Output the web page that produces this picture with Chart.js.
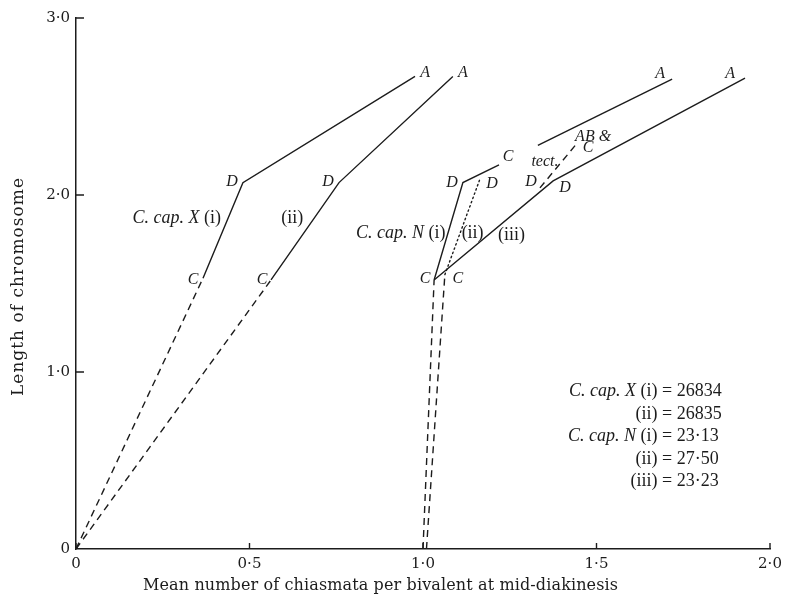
<!DOCTYPE html>
<html>
<head>
<meta charset="utf-8">
<script src="https://cdn.jsdelivr.net/npm/chart.js@4/dist/chart.umd.min.js"></script>
<style>
  html, body { margin: 0; padding: 0; background: #fff; }
  canvas { display: block; }
</style>
</head>
<body>
<canvas id="chart" width="810" height="601"></canvas>
<script>
// Tick labels
const xTickLabels = ['0', '0·5', '1·0', '1·5', '2·0'];
const yTickLabels = ['0', '1·0', '2·0', '3·0'];

// C. cap. X (i): origin, C, D, A  (chiasmata per bivalent, chromosome length)
const capX1Chiasmata = [0, 0.366, 0.481, 0.977];
const capX1Length    = [0, 1.53, 2.07, 2.67];

// C. cap. X (ii): origin, C, D, A
const capX2Chiasmata = [0, 0.562, 0.758, 1.086];
const capX2Length    = [0, 1.52, 2.07, 2.67];

// C. cap. N (i): axis, C, D, C
const capN1Chiasmata = [1.0, 1.032, 1.115, 1.219];
const capN1Length    = [0, 1.52, 2.07, 2.17];

// C. cap. N (ii): axis, C, D (dotted)
const capN2Chiasmata = [1.01, 1.063, 1.164];
const capN2Length    = [0, 1.55, 2.09];

// C. cap. N (ii): D to AB & C (dashed)
const capN2TectChiasmata = [1.337, 1.447];
const capN2TectLength    = [2.04, 2.30];

// C. cap. N (ii): upper branch ending at A
const capN2UpperChiasmata = [1.331, 1.718];
const capN2UpperLength    = [2.28, 2.655];

// C. cap. N (iii): C, D, A
const capN3Chiasmata = [1.032, 1.375, 1.928];
const capN3Length    = [1.52, 2.08, 2.66];

// Regression values listed at lower right
const statNames  = ['C. cap. X (i)', '(ii)', 'C. cap. N (i)', '(ii)', '(iii)'];
const statValues = ['26834', '26835', '23·13', '27·50', '23·23'];

const INK = '#1c1c1c';
const SERIF = '"Liberation Serif", "DejaVu Serif", serif';
const WIDE_SERIF = '"DejaVu Serif", "Liberation Serif", serif';

function pts(xs, ys, from, to) {
  const out = [];
  for (let i = from; i <= to; i++) out.push({ x: xs[i], y: ys[i] });
  return out;
}

function seg(data, dash) {
  return {
    data,
    showLine: true,
    borderColor: INK,
    borderWidth: 1.4,
    borderDash: dash,
    borderCapStyle: dash.length && dash[0] < 3 ? 'round' : 'butt',
    pointRadius: 0,
    pointHoverRadius: 0,
    fill: false,
    tension: 0
  };
}

const DASH = [7, 5];
const DOT = [1.5, 3];

const datasets = [
  seg(pts(capX1Chiasmata, capX1Length, 0, 1), DASH),
  seg(pts(capX1Chiasmata, capX1Length, 1, 3), []),
  seg(pts(capX2Chiasmata, capX2Length, 0, 1), DASH),
  seg(pts(capX2Chiasmata, capX2Length, 1, 3), []),
  seg(pts(capN1Chiasmata, capN1Length, 0, 1), DASH),
  seg(pts(capN1Chiasmata, capN1Length, 1, 3), []),
  seg(pts(capN2Chiasmata, capN2Length, 0, 1), DASH),
  seg(pts(capN2Chiasmata, capN2Length, 1, 2), DOT),
  seg(pts(capN2TectChiasmata, capN2TectLength, 0, 1), DASH),
  seg(pts(capN2UpperChiasmata, capN2UpperLength, 0, 1), []),
  seg(pts(capN3Chiasmata, capN3Length, 0, 2), [])
];

// Letters placed beside curve vertices (pixel offset from the vertex)
const vertexLabels = [
  { t: 'C', x: capX1Chiasmata[1], y: capX1Length[1], dx: -10, dy: 2 },
  { t: 'D', x: capX1Chiasmata[2], y: capX1Length[2], dx: -11, dy: -1 },
  { t: 'A', x: capX1Chiasmata[3], y: capX1Length[3], dx: 10, dy: -4 },
  { t: 'C', x: capX2Chiasmata[1], y: capX2Length[1], dx: -9, dy: 0 },
  { t: 'D', x: capX2Chiasmata[2], y: capX2Length[2], dx: -11, dy: -1 },
  { t: 'A', x: capX2Chiasmata[3], y: capX2Length[3], dx: 10, dy: -4 },
  { t: 'C', x: capN1Chiasmata[1], y: capN1Length[1], dx: -9, dy: -1 },
  { t: 'D', x: capN1Chiasmata[2], y: capN1Length[2], dx: -11, dy: 0 },
  { t: 'C', x: capN1Chiasmata[3], y: capN1Length[3], dx: 9, dy: -8 },
  { t: 'C', x: capN2Chiasmata[1], y: capN2Length[1], dx: 13, dy: 4 },
  { t: 'D', x: capN2Chiasmata[2], y: capN2Length[2], dx: 12, dy: 5 },
  { t: 'D', x: capN2TectChiasmata[0], y: capN2TectLength[0], dx: -9, dy: -6 },
  { t: 'tect.', x: capN2TectChiasmata[0], y: capN2TectLength[0], dx: 5, dy: -26 },
  { t: 'AB &', x: capN2TectChiasmata[1], y: capN2TectLength[1], dx: 15, dy: -5 },
  { t: 'C', x: capN2TectChiasmata[1], y: capN2TectLength[1], dx: 10, dy: 6 },
  { t: 'A', x: capN2UpperChiasmata[1], y: capN2UpperLength[1], dx: -12, dy: -5 },
  { t: 'D', x: capN3Chiasmata[1], y: capN3Length[1], dx: 12, dy: 7 },
  { t: 'A', x: capN3Chiasmata[2], y: capN3Length[2], dx: -15, dy: -4 }
];

// Curve names: runs of italic / roman text, anchored in data space
const curveNames = [
  { runs: [['C. cap. X', true], [' (i)', false]], x: 0.418, y: 1.87, align: 'right' },
  { runs: [['(ii)', false]], x: 0.623, y: 1.87, align: 'center' },
  { runs: [['C. cap. N', true], [' (i)', false]], x: 1.065, y: 1.785, align: 'right' },
  { runs: [['(ii)', false]], x: 1.143, y: 1.785, align: 'center' },
  { runs: [['(iii)', false]], x: 1.255, y: 1.774, align: 'center' }
];

const fontRoman = (s, f) => s + 'px ' + (f || SERIF);
const fontItalic = (s) => 'italic ' + s + 'px ' + SERIF;

function drawRuns(ctx, runs, x, y, align, size) {
  let total = 0;
  const widths = runs.map(([t, it]) => {
    ctx.font = it ? fontItalic(size) : fontRoman(size);
    const w = ctx.measureText(t).width;
    total += w;
    return w;
  });
  let cx = align === 'right' ? x - total : align === 'center' ? x - total / 2 : x;
  ctx.textAlign = 'left';
  ctx.textBaseline = 'middle';
  runs.forEach(([t, it], i) => {
    ctx.font = it ? fontItalic(size) : fontRoman(size);
    ctx.fillText(t, cx, y);
    cx += widths[i];
  });
}

function drawSpread(ctx, text, x, y, width, font) {
  ctx.font = font;
  ctx.letterSpacing = '0px';
  const w = ctx.measureText(text).width;
  const ls = (width - w) / (text.length - 1);
  ctx.letterSpacing = ls + 'px';
  ctx.textAlign = 'left';
  ctx.textBaseline = 'middle';
  ctx.fillText(text, x, y);
  ctx.letterSpacing = '0px';
}

const overlay = {
  id: 'overlay',
  afterDraw(chart) {
    const ctx = chart.ctx;
    const xs = chart.scales.x, ys = chart.scales.y;
    const area = chart.chartArea;
    ctx.save();
    ctx.fillStyle = INK;
    ctx.strokeStyle = INK;
    ctx.lineWidth = 1.4;

    // inward tick marks
    ctx.beginPath();
    xs.ticks.forEach(t => {
      const px = xs.getPixelForValue(t.value);
      ctx.moveTo(px, area.bottom);
      ctx.lineTo(px, area.bottom - 6);
    });
    ys.ticks.forEach(t => {
      if (t.value === 0) return;
      const py = ys.getPixelForValue(t.value);
      ctx.moveTo(area.left, py);
      ctx.lineTo(area.left + 8, py);
    });
    ctx.stroke();

    // vertex letters
    vertexLabels.forEach(l => {
      const px = xs.getPixelForValue(l.x) + l.dx;
      const py = ys.getPixelForValue(l.y) + l.dy;
      ctx.font = fontItalic(16);
      ctx.textAlign = 'center';
      ctx.textBaseline = 'middle';
      ctx.fillText(l.t, px, py);
    });

    // curve names
    curveNames.forEach(n => {
      drawRuns(ctx, n.runs, xs.getPixelForValue(n.x), ys.getPixelForValue(n.y), n.align, 18);
    });

    // regression values, aligned on the equals sign
    const eqX = area.right - 108;
    const rowY0 = ys.getPixelForValue(0.89);
    statNames.forEach((name, i) => {
      const y = rowY0 + i * 22.5;
      const runs = name.startsWith('C.')
        ? [[name.slice(0, 9), true], [name.slice(9) + ' ', false]]
        : [[name + ' ', false]];
      drawRuns(ctx, runs, eqX, y, 'right', 18);
      drawRuns(ctx, [['= ' + statValues[i], false]], eqX, y, 'left', 18);
    });

    // axis titles
    drawSpread(ctx, 'Mean number of chiasmata per bivalent at mid-diakinesis',
      143, 586, 475, fontRoman(16, WIDE_SERIF));
    ctx.save();
    ctx.translate(19, 396);
    ctx.rotate(-Math.PI / 2);
    drawSpread(ctx, 'Length of chromosome', 0, 0, 218, fontRoman(17, WIDE_SERIF));
    ctx.restore();

    ctx.restore();
  }
};

const tickFont = { family: WIDE_SERIF, size: 15 };

new Chart(document.getElementById('chart'), {
  type: 'scatter',
  data: { datasets },
  options: {
    responsive: false,
    animation: false,
    events: [],
    layout: { padding: { top: 18, right: 40, left: 0, bottom: 0 } },
    plugins: { legend: { display: false }, tooltip: { enabled: false } },
    scales: {
      x: {
        type: 'linear', min: 0, max: 2,
        ticks: {
          stepSize: 0.5, autoSkip: false, maxRotation: 0, padding: 6,
          color: INK, font: tickFont,
          callback: (v, i) => xTickLabels[i]
        },
        grid: { drawOnChartArea: false, drawTicks: false },
        border: { color: INK, width: 1.5 },
        afterFit(s) { s.height = 52; }
      },
      y: {
        type: 'linear', min: 0, max: 3,
        ticks: {
          stepSize: 1, autoSkip: false, padding: 6,
          color: INK, font: tickFont,
          callback: (v, i) => yTickLabels[i]
        },
        grid: { drawOnChartArea: false, drawTicks: false },
        border: { color: INK, width: 1.5 },
        afterFit(s) { s.width = 76; }
      }
    }
  },
  plugins: [overlay]
});
</script>
</body>
</html>
